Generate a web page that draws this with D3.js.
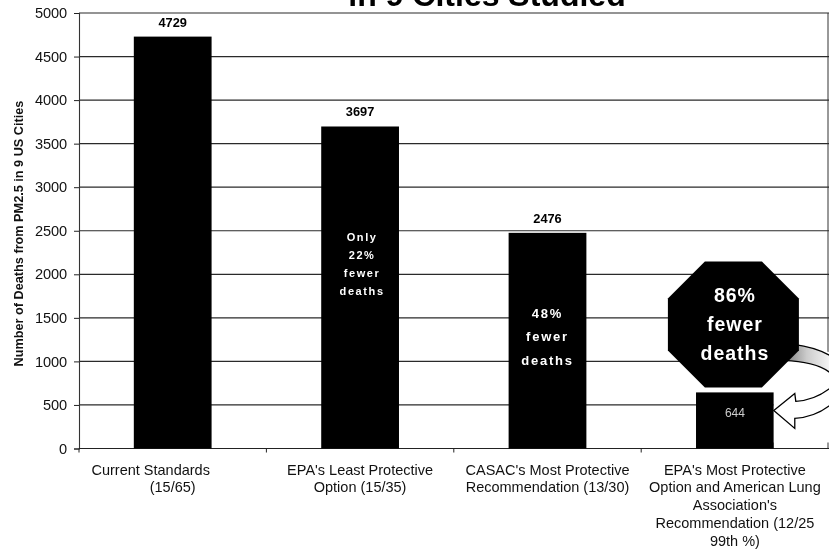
<!DOCTYPE html>
<html><head><meta charset="utf-8">
<script src="https://cdn.jsdelivr.net/npm/d3@7/dist/d3.min.js"></script>
<style>
html,body{margin:0;padding:0;background:#fff;overflow:hidden}
svg{display:block;font-family:"Liberation Sans",Arial,sans-serif;filter:blur(0.35px)}
</style></head><body><div id="c"></div>
<script>
const categories=["Current Standards (15/65)","EPA's Least Protective Option (15/35)","CASAC's Most Protective Recommendation (13/30)","EPA's Most Protective Option and American Lung Association's Recommendation (12/25 99th %)"];
const categoryLines=[["Current Standards","(15/65)"],["EPA's Least Protective","Option (15/35)"],["CASAC's Most Protective","Recommendation (13/30)"],["EPA's Most Protective","Option and American Lung","Association's","Recommendation (12/25","99th %)"]];
const deaths=[4729,3697,2476,644];
const yTicks=[0,500,1000,1500,2000,2500,3000,3500,4000,4500,5000];
const titleText="in 9 Cities Studied";
const yLabel="Number of Deaths from PM2.5 in 9 US Cities";
const barNotes=[[],["Only","22%","fewer","deaths"],["48%","fewer","deaths"],[]];

const W=829,H=552,L=79,T=13,B=448.5;
const svg=d3.select("#c").append("svg").attr("width",W).attr("height",H);
const x=d3.scaleBand().domain(categories).range([L,L+187.4*4]).paddingInner(0.585).paddingOuter(0.2925);
const y=d3.scaleLinear().domain([0,5000]).range([B,T]);

svg.append("text").attr("x",487).attr("y",6).attr("text-anchor","middle").attr("font-size",32).attr("font-weight",700).text(titleText);

svg.append("g").selectAll("line").data(yTicks.slice(1)).join("line")
 .attr("x1",L).attr("x2",W).attr("y1",d=>y(d)).attr("y2",d=>y(d)).attr("stroke","#2a2a2a").attr("stroke-width",1.2);
svg.append("line").attr("x1",W-1).attr("x2",W-1).attr("y1",T).attr("y2",B).attr("stroke","#333").attr("stroke-width",1);

const yAxis=d3.axisLeft(y).tickValues(yTicks).tickSize(5).tickFormat(d3.format("d"));
const gy=svg.append("g").attr("transform",`translate(${L},0)`).call(yAxis);
gy.select(".domain").attr("stroke","#333").attr("stroke-width",1.1);
gy.selectAll("line").attr("stroke","#222");
gy.selectAll("text").attr("font-size",14.6).attr("font-family",'"Liberation Sans",Arial,sans-serif').attr("fill","#111").attr("x",-12).attr("letter-spacing",-0.1);

const gx=svg.append("g").attr("transform",`translate(0,${B})`);
gx.append("line").attr("x1",L).attr("x2",W).attr("stroke","#222").attr("stroke-width",1.2);
gx.selectAll(".t").data(d3.range(0,4)).join("line").attr("class","t")
 .attr("x1",i=>L+187.4*i).attr("x2",i=>L+187.4*i).attr("y2",4).attr("stroke","#222");

svg.append("text").attr("transform","translate(23,233.5) rotate(-90)").attr("text-anchor","middle")
 .attr("font-size",12.7).attr("font-weight",700).attr("fill","#111").text(yLabel);

svg.append("g").selectAll("rect").data(deaths).join("rect")
 .attr("x",(d,i)=>x(categories[i])).attr("width",x.bandwidth()).attr("y",d=>y(d)).attr("height",d=>B-y(d)).attr("fill","#000");

svg.append("g").selectAll("text").data(deaths.slice(0,3)).join("text")
 .attr("x",(d,i)=>x(categories[i])+x.bandwidth()/2).attr("y",d=>y(d)-10)
 .attr("text-anchor","middle").attr("font-size",12.8).attr("font-weight",700).text(d=>d);

const c3=x(categories[3])+x.bandwidth()/2;
svg.append("text").attr("x",c3).attr("y",y(deaths[3])+25).attr("text-anchor","middle")
 .attr("fill","#ccc").attr("font-size",12).text(deaths[3]);

barNotes.forEach((lines,i)=>{
 const cx=x(categories[i])+x.bandwidth()/2;
 const start=i===1?y(deaths[1])+115:y(deaths[2])+85, step=i===1?17.7:23.5;
 lines.forEach((s,j)=>svg.append("text").attr("x",cx+(i===1?2:0)).attr("y",start+j*step).attr("text-anchor","middle")
  .attr("fill","#fff").attr("font-weight",700).attr("font-size",i===1?11:13).attr("letter-spacing",i===1?1.6:1.8).text(s));
});

// curved arrow and stop sign, placed relative to the short bar
const ax=x(categories[3])+x.bandwidth(), ay=y(deaths[3]);
const defs=svg.append("defs");
const g=defs.append("linearGradient").attr("id","sw").attr("x1","0").attr("x2","1");
g.append("stop").attr("offset","0").attr("stop-color","#777");
g.append("stop").attr("offset","0.5").attr("stop-color","#ccc");
g.append("stop").attr("offset","1").attr("stop-color","#f5f5f5");
const P=(dx,dy)=>`${ax+dx},${ay+dy}`;
svg.append("path").attr("d",`M${P(0,-50)} L${P(57,-40)} L${P(57,50)} L${P(0,50)}Z`).attr("fill","#fff");
svg.append("path").attr("d",`M${P(20,-48)} C${P(35,-46)} ${P(47,-42)} ${P(56,-37)} L${P(56,-20)} C${P(48,-26)} ${P(35,-31)} ${P(10,-32)}Z`).attr("fill","url(#sw)");
svg.append("path").attr("d",`M${P(20,-48)} C${P(35,-46)} ${P(47,-42)} ${P(56,-37)} M${P(10,-32)} C${P(35,-31)} ${P(48,-26)} ${P(56,-20)}`).attr("fill","none").attr("stroke","#000").attr("stroke-width",1.3);
svg.append("path").attr("d",`M${P(56,-4)} C${P(47,3)} ${P(36,8)} ${P(22,9)} L${P(21,1)} L${P(0,18)} L${P(21,36)} L${P(21,26)} C${P(36,25)} ${P(47,20)} ${P(56,13)}`)
 .attr("fill","#fff").attr("stroke","#000").attr("stroke-width",1.3);

const ox=c3-1.5, oy=y(deaths[3])-68;
const a=65.5,b=63,c=37;
const oct=[[-a+c,-b],[a-c,-b],[a,-b+c],[a,b-c],[a-c,b],[-a+c,b],[-a,b-c],[-a,-b+c]];
svg.append("polygon").attr("points",oct.map(p=>[ox+p[0],oy+p[1]].join(",")).join(" ")).attr("fill","#000");
["86%","fewer","deaths"].forEach((s,j)=>svg.append("text").attr("x",ox+1.5).attr("y",oy-22+j*29).attr("text-anchor","middle")
 .attr("fill","#fff").attr("font-weight",700).attr("font-size",19.5).attr("letter-spacing",1).text(s));

const lblG=svg.append("g");
categoryLines.forEach((lines,i)=>{
 const cx=x(categories[i])+x.bandwidth()/2;
 lines.forEach((s,j)=>lblG.append("text").attr("x",cx-(i===0&&j===0?22:0)).attr("y",474.5+j*17.8)
  .attr("text-anchor","middle").attr("font-size",14.5).attr("fill","#111").text(s));
});
</script></body></html>
